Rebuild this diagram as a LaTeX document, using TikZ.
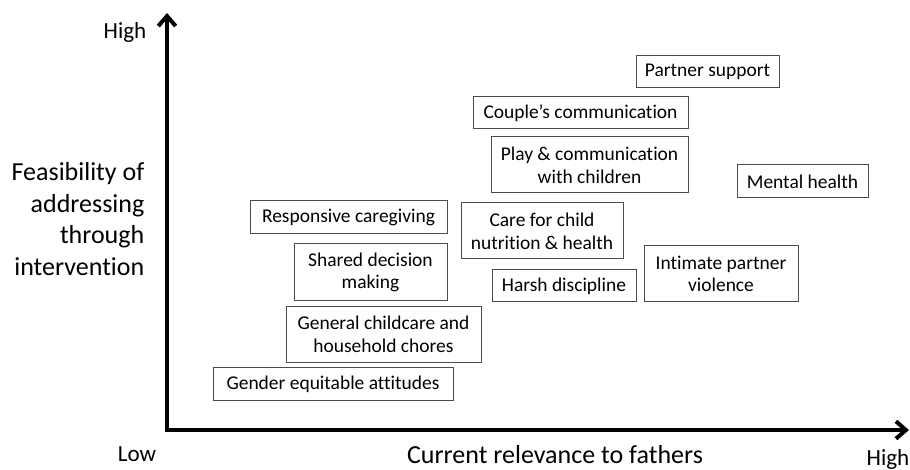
\documentclass[tikz,border=0pt]{standalone}
\usepackage{fontspec}
\setmainfont{Carlito}[Ligatures={NoCommon}]
\usetikzlibrary{arrows.meta,positioning}

\begin{document}
\begin{tikzpicture}[
    x=0.75pt, y=-0.75pt,
    factor/.style 2 args={
        draw=black!70,
        line width=0.75pt,
        fill=white,
        align=center,
        inner sep=0pt,
        minimum width=#1*0.75pt,
        minimum height=#2*0.75pt,
        font=\fontsize{14.6}{17}\selectfont
    },
    axis/.style={{Straight Barb[length=7.5pt,width=13pt]}-{Straight Barb[length=7.5pt,width=13pt]}, line width=3pt},
    ticklabel/.style={font=\fontsize{17.3}{20}\selectfont},
    axislabel/.style={font=\fontsize{19.5}{23.8}\selectfont, align=right},
    ]
    \useasboundingbox (0,0) rectangle (910,470);

    % axes
    \coordinate (ytip) at (167,13);
    \coordinate (origin) at (167,430);
    \coordinate (xtip) at (909,430);
    \draw[axis] (ytip) -- (origin) -- (xtip);

    \node[ticklabel, anchor=east] (yhigh) at (151,32) {High};
    \node[ticklabel] (xlow) at (137,454) {Low};
    \node[ticklabel] (xhigh) at (888,459) {High};
    \node[axislabel, anchor=east] (ylabel) at (149,219) {Feasibility of\\addressing\\through\\intervention};
    \node[axislabel] (xlabel) at (555,455) {Current relevance to fathers};

    % factors
    \node[factor={143}{32}] (partner) at (707.5,72) {Partner support};
    \node[factor={215}{32}] (couple) at (580.5,113) {Couple’s communication};
    \node[factor={197}{56}] (play) at (589.5,165) {Play \& communication\\with children};
    \node[factor={131}{33}] (mental) at (802.5,181.5) {Mental health};
    \node[factor={162}{56}] (care) at (542,231) {Care for child\\nutrition \& health};
    \node[factor={144}{32}] (harsh) at (564,286) {Harsh discipline};
    \node[factor={154}{56}] (ipv) at (721,274) {Intimate partner\\violence};
    \node[factor={197}{33}] (responsive) at (348.5,217.5) {Responsive caregiving};
    \node[factor={153}{57}] (shared) at (370.5,272.5) {Shared decision\\making};
    \node[factor={195}{56}] (chores) at (383.5,334) {General childcare and\\household chores};
    \node[factor={240}{33}] (gender) at (333,384) {Gender equitable attitudes};
\end{tikzpicture}
\end{document}
